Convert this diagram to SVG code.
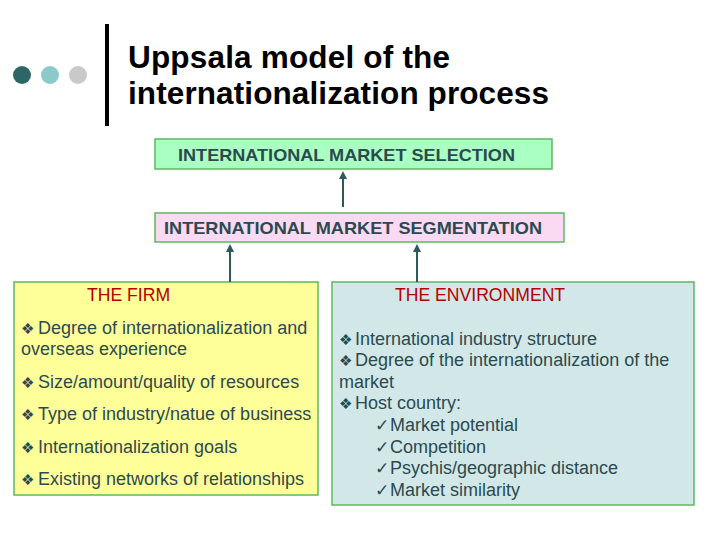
<svg xmlns="http://www.w3.org/2000/svg" width="720" height="540" viewBox="0 0 720 540">
<style>
.t{font-family:"Liberation Sans",Arial,sans-serif;fill:#2b4a50;font-size:18px}
.h{font-family:"Liberation Sans",Arial,sans-serif;fill:#b40000;font-size:17.6px}
.bx{font-family:"Liberation Sans",Arial,sans-serif;fill:#2b4a50;font-size:17px;font-weight:bold}
.b{font-family:"DejaVu Sans",sans-serif;font-size:15px;fill:#2b4a50}
.c{font-family:"DejaVu Sans",sans-serif;font-size:17px;fill:#2b4a50}
.title{font-family:"Liberation Sans",Arial,sans-serif;font-weight:bold;font-size:31.5px;fill:#000}
.box{stroke:#5cb85c;stroke-width:1.5}
.conn{stroke:#2e5a5c;stroke-width:2;fill:none}
</style>
<defs>
<marker id="ah" markerWidth="8" markerHeight="8" refX="4" refY="4" orient="auto" markerUnits="userSpaceOnUse">
<path d="M0,0 L8,4 L0,8 z" fill="#2e5a5c"/>
</marker>
</defs>
<rect width="720" height="540" fill="#fff"/>
<g id="header">
<circle cx="22" cy="75" r="9" fill="#2e6567"/>
<circle cx="50" cy="75" r="9" fill="#8dc8ca"/>
<circle cx="78" cy="75" r="9" fill="#c9c9c9"/>
<rect x="105" y="24" width="4" height="102" fill="#000"/>
<text class="title" x="128" y="68" textLength="322">Uppsala model of the</text>
<text class="title" x="128" y="104" textLength="421">internationalization process</text>
</g>
<g id="selection">
<rect class="box" x="155" y="139" width="397" height="30" fill="#aaffc3"/>
<text class="bx" x="178" y="161" textLength="337" lengthAdjust="spacingAndGlyphs">INTERNATIONAL MARKET SELECTION</text>
</g>
<g id="segmentation">
<rect class="box" x="155" y="213" width="409" height="29" fill="#fad9f3"/>
<text class="bx" x="164" y="234" textLength="378" lengthAdjust="spacingAndGlyphs">INTERNATIONAL MARKET SEGMENTATION</text>
</g>
<g id="firm">
<rect class="box" x="14" y="282" width="304" height="213" fill="#ffff99"/>
<text class="h" x="87" y="301">THE FIRM</text>
<text class="b" x="21" y="334">❖</text>
<text class="t" x="38" y="334">Degree of internationalization and</text>
<text class="t" x="21" y="355">overseas experience</text>
<text class="b" x="21" y="388">❖</text>
<text class="t" x="38" y="388">Size/amount/quality of resources</text>
<text class="b" x="21" y="420">❖</text>
<text class="t" x="38" y="420">Type of industry/natue of business</text>
<text class="b" x="21" y="453">❖</text>
<text class="t" x="38" y="453">Internationalization goals</text>
<text class="b" x="21" y="485">❖</text>
<text class="t" x="38" y="485">Existing networks of relationships</text>
</g>
<g id="environment">
<rect class="box" x="332" y="282" width="362" height="223" fill="#d2e8e8"/>
<text class="h" x="395" y="301">THE ENVIRONMENT</text>
<text class="b" x="339" y="345">❖</text>
<text class="t" x="355" y="345">International industry structure</text>
<text class="b" x="339" y="366">❖</text>
<text class="t" x="355" y="366">Degree of the internationalization of the</text>
<text class="t" x="339" y="388">market</text>
<text class="b" x="339" y="409">❖</text>
<text class="t" x="355" y="409">Host country:</text>
<text class="c" x="375" y="431">✓</text>
<text class="t" x="390" y="431">Market potential</text>
<text class="c" x="375" y="453">✓</text>
<text class="t" x="390" y="453">Competition</text>
<text class="c" x="375" y="474">✓</text>
<text class="t" x="390" y="474">Psychis/geographic distance</text>
<text class="c" x="375" y="496">✓</text>
<text class="t" x="390" y="496">Market similarity</text>
</g>
<g id="connectors">
<line class="conn" x1="343" y1="207" x2="343" y2="175" marker-end="url(#ah)"/>
<line class="conn" x1="230" y1="282" x2="230" y2="248" marker-end="url(#ah)"/>
<line class="conn" x1="417" y1="282" x2="417" y2="248" marker-end="url(#ah)"/>
</g>
</svg>
